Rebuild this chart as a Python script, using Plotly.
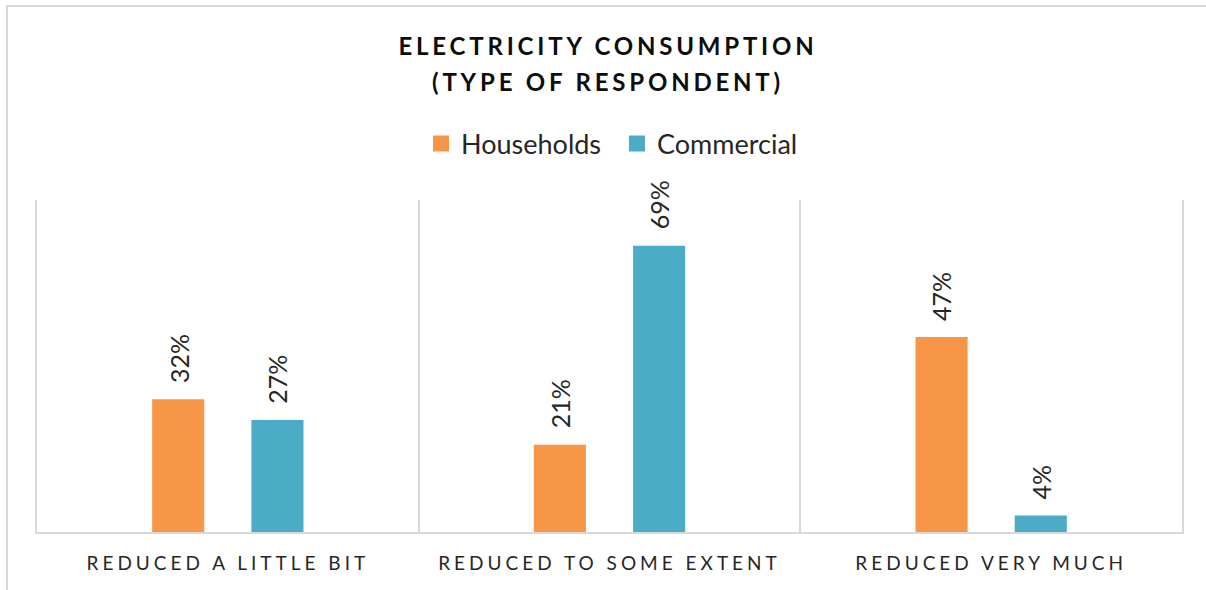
import plotly.graph_objects as go

categories = ["REDUCED A LITTLE BIT", "REDUCED TO SOME EXTENT", "REDUCED VERY MUCH"]
households = [32, 21, 47]
commercial = [27, 69, 4]
series_names = ["Households", "Commercial"]
colors = ["#F79646", "#4BACC6"]

W, H = 1206, 590
ML, MR, MT, MB = 37, 24, 200, 58
PW, PH = W - ML - MR, H - MT - MB


def px_to_paper_x(px):
    return (px - ML) / PW


def px_to_paper_y(py):
    return (H - MB - py) / PH


FONT = "Lato"
TXT = "#262626"
GRID = "#D9D9D9"

fig = go.Figure()
for name, vals, col in zip(series_names, [households, commercial], colors):
    fig.add_trace(go.Bar(
        x=categories, y=vals, name=name, marker=dict(color=col, line=dict(width=0)),
        showlegend=False, hoverinfo="x+y+name",
    ))
# legend entries with larger square swatches
for name, col in zip(series_names, colors):
    fig.add_trace(go.Scatter(
        x=[None], y=[None], mode="markers", name=name,
        marker=dict(symbol="square", size=16, color=col), hoverinfo="skip",
    ))

# data labels
offset_px = 49.5
for vals, sign in [(households, -1), (commercial, 1)]:
    for c, v in zip(categories, vals):
        fig.add_annotation(
            x=c, y=v, xref="x", yref="y", text=f"{v}%", showarrow=False,
            textangle=-90, xanchor="center", yanchor="bottom",
            xshift=sign * offset_px, yshift=14,
            font=dict(family=FONT, size=25, color=TXT),
        )

# outer chart border (left and top edges)
fig.add_shape(type="line", xref="paper", yref="paper",
              x0=px_to_paper_x(7), x1=px_to_paper_x(7),
              y0=px_to_paper_y(600), y1=px_to_paper_y(6),
              line=dict(color=GRID, width=2))
fig.add_shape(type="line", xref="paper", yref="paper",
              x0=px_to_paper_x(6), x1=px_to_paper_x(1220),
              y0=px_to_paper_y(6), y1=px_to_paper_y(6),
              line=dict(color=GRID, width=2))

fig.update_layout(
    width=W, height=H,
    margin=dict(l=ML, r=MR, t=MT, b=MB, pad=0),
    paper_bgcolor="white", plot_bgcolor="white",
    barmode="group", bargap=0.48, bargroupgap=0.475,
    title=dict(
        text="ELECTRICITY CONSUMPTION<br>(TYPE OF RESPONDENT)",
        x=0.5 + 5 / W, xref="container", xanchor="center",
        y=1 - 55 / H, yref="container", yanchor="top",
        font=dict(family=FONT, size=24, color="#0d0d0d", weight="bold"),
    ),
    legend=dict(
        orientation="h", x=px_to_paper_x(617), xanchor="center",
        y=px_to_paper_y(144), yanchor="middle",
        font=dict(family=FONT, size=27, color=TXT),
        bgcolor="rgba(0,0,0,0)", entrywidth=151,
    ),
    xaxis=dict(
        type="category", range=[-0.5, 2.5], tickson="boundaries",
        showgrid=True, gridcolor=GRID, gridwidth=2,
        showline=True, linecolor=GRID, linewidth=2,
        ticks="", ticklabelstandoff=13,
        tickfont=dict(family=FONT, size=19, color=TXT),
        zeroline=False, fixedrange=True,
    ),
    yaxis=dict(
        range=[0, 80], showgrid=False, zeroline=False, showticklabels=False,
        showline=True, mirror=True, linecolor=GRID, linewidth=2,
        ticks="", fixedrange=True,
    ),
)

post = """
var gd = document.getElementById('{plot_id}');
function ls(){
  gd.querySelectorAll('.gtitle').forEach(function(t){t.style.letterSpacing='3.8px';});
  gd.querySelectorAll('.gtitle tspan.line').forEach(function(t, i){ if (i > 0) { t.setAttribute('dy', '1.5em'); } });
  gd.querySelectorAll('.xtick text').forEach(function(t){t.style.letterSpacing='4px';});
}
ls();
gd.on('plotly_afterplot', ls);
"""

fig.write_html("out.html", post_script=post, config={"displayModeBar": False})
